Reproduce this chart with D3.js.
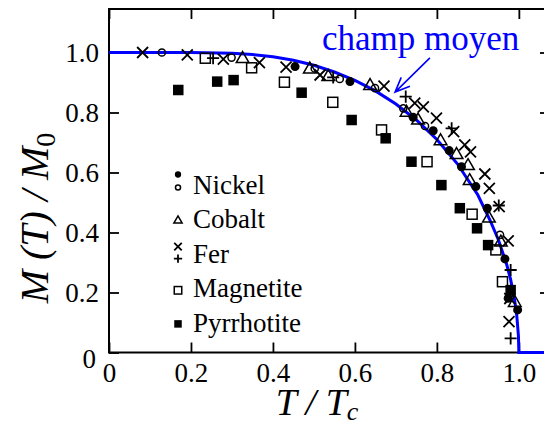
<!DOCTYPE html>
<html>
<head>
<meta charset="utf-8">
<script src="https://cdn.jsdelivr.net/npm/d3@7"></script>
<style>
  html, body { margin: 0; padding: 0; background: #fff; }
  svg { display: block; }
</style>
</head>
<body>
<svg id="chart"></svg>
<script>
// Data: [T/Tc, M(T)/M0]
const nickelFilled = [[0.454, 0.953], [0.588, 0.903], [0.742, 0.784], [0.791, 0.739], [0.83, 0.673],
  [0.86, 0.619], [0.895, 0.553], [0.923, 0.481], [0.966, 0.312], [0.974, 0.181], [0.997, 0.142]];
const nickelOpen = [[0.129, 1.0], [0.299, 0.983], [0.502, 0.947], [0.563, 0.912], [0.649, 0.881],
  [0.718, 0.814], [0.771, 0.755], [0.954, 0.392]];
const cobalt = [[0.326, 0.982], [0.49, 0.947], [0.535, 0.922], [0.637, 0.892], [0.726, 0.803],
  [0.754, 0.777], [0.809, 0.708], [0.848, 0.662], [0.876, 0.625], [0.88, 0.575], [0.927, 0.45],
  [0.956, 0.37], [0.99, 0.169]];
const ferCross = [[0.082, 1.0], [0.191, 0.992], [0.279, 0.978], [0.367, 0.966], [0.432, 0.951],
  [0.515, 0.925], [0.671, 0.888], [0.746, 0.831], [0.767, 0.819], [0.799, 0.781], [0.841, 0.736],
  [0.868, 0.692], [0.882, 0.669], [0.917, 0.595], [0.928, 0.547], [0.952, 0.486], [0.974, 0.372],
  [0.978, 0.18], [0.976, 0.103]];
const ferPlus = [[0.254, 0.981], [0.547, 0.917], [0.724, 0.853], [0.836, 0.747], [0.951, 0.49],
  [0.98, 0.275], [0.98, 0.047]];
const magnetite = [[0.235, 0.981], [0.348, 0.949], [0.428, 0.901], [0.546, 0.834], [0.665, 0.742],
  [0.776, 0.636], [0.886, 0.461], [0.944, 0.342], [0.96, 0.236]];
const pyrrhotite = [[0.169, 0.875], [0.264, 0.903], [0.304, 0.908], [0.47, 0.866], [0.592, 0.775],
  [0.675, 0.714], [0.738, 0.636], [0.811, 0.558], [0.856, 0.481], [0.898, 0.414], [0.925, 0.358],
  [0.98, 0.208]];

// mean field curve ("champ moyen")
const meanFieldT = [0, 0.1, 0.2, 0.3, 0.35, 0.4, 0.45, 0.5, 0.55, 0.6, 0.65, 0.7, 0.75, 0.8, 0.85,
  0.9, 0.93, 0.95, 0.97, 0.98, 0.99, 0.995, 0.999, 1.0, 1.076];
const meanFieldM = [1, 1, 0.9999, 0.9974, 0.9932, 0.9857, 0.9741, 0.9575, 0.935, 0.9073, 0.872,
  0.828, 0.775, 0.71, 0.629, 0.525, 0.44, 0.376, 0.295, 0.243, 0.172, 0.122, 0.055, 0, 0];

const xTicks = [0, 0.2, 0.4, 0.6, 0.8, 1.0];
const yTicks = [0, 0.2, 0.4, 0.6, 0.8, 1.0];
const legendNames = ["Nickel", "Cobalt", "Fer", "Magnetite", "Pyrrhotite"];

// Layout
const width = 544, height = 425;
const marginLeft = 109, marginTop = 9, plotRight = 550, plotBottom = 352.5;
const font = "'Liberation Serif', 'Times New Roman', serif";

const svg = d3.select("#chart")
    .attr("width", width)
    .attr("height", height)
    .attr("viewBox", [0, 0, width, height]);

const x = d3.scaleLinear([0, 1.076], [marginLeft, plotRight]);
const y = d3.scaleLinear([0, 1.145], [plotBottom, marginTop]);

const fmt = d => d === 0 ? "0" : d3.format(".1f")(d);

// axes, ticks pointing inwards
const styleAxis = g => {
  g.attr("font-family", font);
  g.select(".domain").remove();
  g.selectAll(".tick line").attr("stroke", "#000").attr("stroke-width", 1.8);
  g.selectAll(".tick text").attr("font-family", font).attr("font-size", 27).attr("fill", "#000");
};

svg.append("g")
    .attr("transform", `translate(0,${plotBottom})`)
    .call(d3.axisBottom(x).tickValues(xTicks).tickFormat(fmt).tickSize(-10).tickPadding(10))
    .call(styleAxis);
svg.append("g")
    .attr("transform", `translate(${marginLeft},0)`)
    .call(d3.axisLeft(y).tickValues(yTicks).tickFormat(fmt).tickSize(-10).tickPadding(10))
    .call(styleAxis)
    .call(g => g.selectAll(".tick text").filter(d => d === 0).attr("dy", "0.55em").attr("x", -13));
svg.append("g")
    .attr("transform", `translate(0,${marginTop})`)
    .call(d3.axisTop(x).tickValues(xTicks).tickFormat("").tickSize(-10))
    .call(styleAxis);
svg.append("g")
    .attr("transform", `translate(${plotRight},0)`)
    .call(d3.axisRight(y).tickValues(yTicks).tickFormat("").tickSize(-10))
    .call(styleAxis);

svg.append("rect")
    .attr("x", marginLeft).attr("y", marginTop)
    .attr("width", plotRight - marginLeft).attr("height", plotBottom - marginTop)
    .attr("fill", "none").attr("stroke", "#000").attr("stroke-width", 2);

// mean field curve
const curve = d3.line()
    .x((d, i) => x(meanFieldT[i]))
    .y((d, i) => y(meanFieldM[i]));
svg.append("path")
    .attr("d", curve(meanFieldT))
    .attr("fill", "none")
    .attr("stroke", "#0000ff")
    .attr("stroke-width", 3);

// marker shapes
const shapes = {
  dot: (s, g) => g.append("circle").attr("r", s * 0.45).attr("fill", "#000"),
  ring: (s, g) => g.append("circle").attr("r", s * 0.36).attr("fill", "none").attr("stroke", "#000").attr("stroke-width", 1.5),
  tri: (s, g) => g.append("path").attr("d", `M0,${-s * 0.55}L${s * 0.55},${s * 0.4}L${-s * 0.55},${s * 0.4}Z`)
      .attr("fill", "none").attr("stroke", "#000").attr("stroke-width", 1.5),
  times: (s, g) => g.append("path").attr("d", `M${-s / 2},${-s / 2}L${s / 2},${s / 2}M${-s / 2},${s / 2}L${s / 2},${-s / 2}`)
      .attr("stroke", "#000").attr("stroke-width", 1.8),
  plus: (s, g) => g.append("path").attr("d", `M${-s * 0.55},0H${s * 0.55}M0,${-s * 0.55}V${s * 0.55}`)
      .attr("stroke", "#000").attr("stroke-width", 1.8),
  square: (s, g) => g.append("rect").attr("x", -s / 2).attr("y", -s / 2).attr("width", s).attr("height", s)
      .attr("fill", "none").attr("stroke", "#000").attr("stroke-width", 1.5),
  block: (s, g) => g.append("rect").attr("x", -s / 2).attr("y", -s / 2).attr("width", s).attr("height", s)
      .attr("fill", "#000")
};

const series = [
  {data: magnetite, shape: "square", size: 10},
  {data: pyrrhotite, shape: "block", size: 10.5},
  {data: cobalt, shape: "tri", size: 11.5},
  {data: nickelOpen, shape: "ring", size: 10},
  {data: nickelFilled, shape: "dot", size: 10},
  {data: ferCross, shape: "times", size: 11},
  {data: ferPlus, shape: "plus", size: 11}
];

series.forEach(s => {
  svg.append("g").selectAll("g")
      .data(s.data)
      .join("g")
      .attr("transform", d => `translate(${x(d[0])},${y(d[1])})`)
      .each(function () { shapes[s.shape](s.size, d3.select(this)); });
});

// legend
const legendX = 178, legendTextX = 193, legendY0 = 193.5, legendStep = 34.6;
const legendMarks = [
  [["dot", 0, -19], ["ring", 0, -6]],
  [["tri", 0, -8]],
  [["times", 0, -16], ["plus", 0, -4]],
  [["square", 0, -7]],
  [["block", 0, -8]]
];
const legend = svg.append("g");
legendNames.forEach((name, i) => {
  const by = legendY0 + i * legendStep;
  legend.append("text")
      .attr("x", legendTextX).attr("y", by)
      .attr("font-family", font).attr("font-size", 27)
      .text(name);
  legendMarks[i].forEach(([shape, dx, dy]) => {
    const g = legend.append("g").attr("transform", `translate(${legendX + dx},${by + dy})`);
    shapes[shape](shape === "ring" || shape === "dot" ? 7 : 7.5, g);
  });
});

// annotation "champ moyen"
svg.append("text")
    .attr("x", 322).attr("y", 50)
    .attr("font-family", font).attr("font-size", 35)
    .attr("fill", "#0000ff")
    .text("champ moyen");

const tail = [x(0.783), y(0.982)], tip = [x(0.698), y(0.868)];
const ang = Math.atan2(tail[1] - tip[1], tail[0] - tip[0]);
const head = 16, spread = 0.4;
svg.append("path")
    .attr("d", `M${tail}L${tip}` +
      `M${tip[0] + head * Math.cos(ang - spread)},${tip[1] + head * Math.sin(ang - spread)}L${tip}` +
      `L${tip[0] + head * Math.cos(ang + spread)},${tip[1] + head * Math.sin(ang + spread)}`)
    .attr("fill", "none")
    .attr("stroke", "#0000ff")
    .attr("stroke-width", 1.6);

// axis titles
const xTitle = svg.append("text")
    .attr("x", 317).attr("y", 415)
    .attr("text-anchor", "middle")
    .attr("font-family", font).attr("font-size", 38).attr("font-style", "italic");
xTitle.append("tspan").text("T / T");
xTitle.append("tspan").attr("font-size", 26).attr("dy", 5).text("c");

const yTitle = svg.append("text")
    .attr("transform", "translate(48,218) rotate(-90)")
    .attr("text-anchor", "middle")
    .attr("font-family", font).attr("font-size", 40).attr("font-style", "italic");
yTitle.append("tspan").text("M (T) / M");
yTitle.append("tspan").attr("font-size", 28).attr("dy", 7).attr("font-style", "normal").text("0");
</script>
</body>
</html>
